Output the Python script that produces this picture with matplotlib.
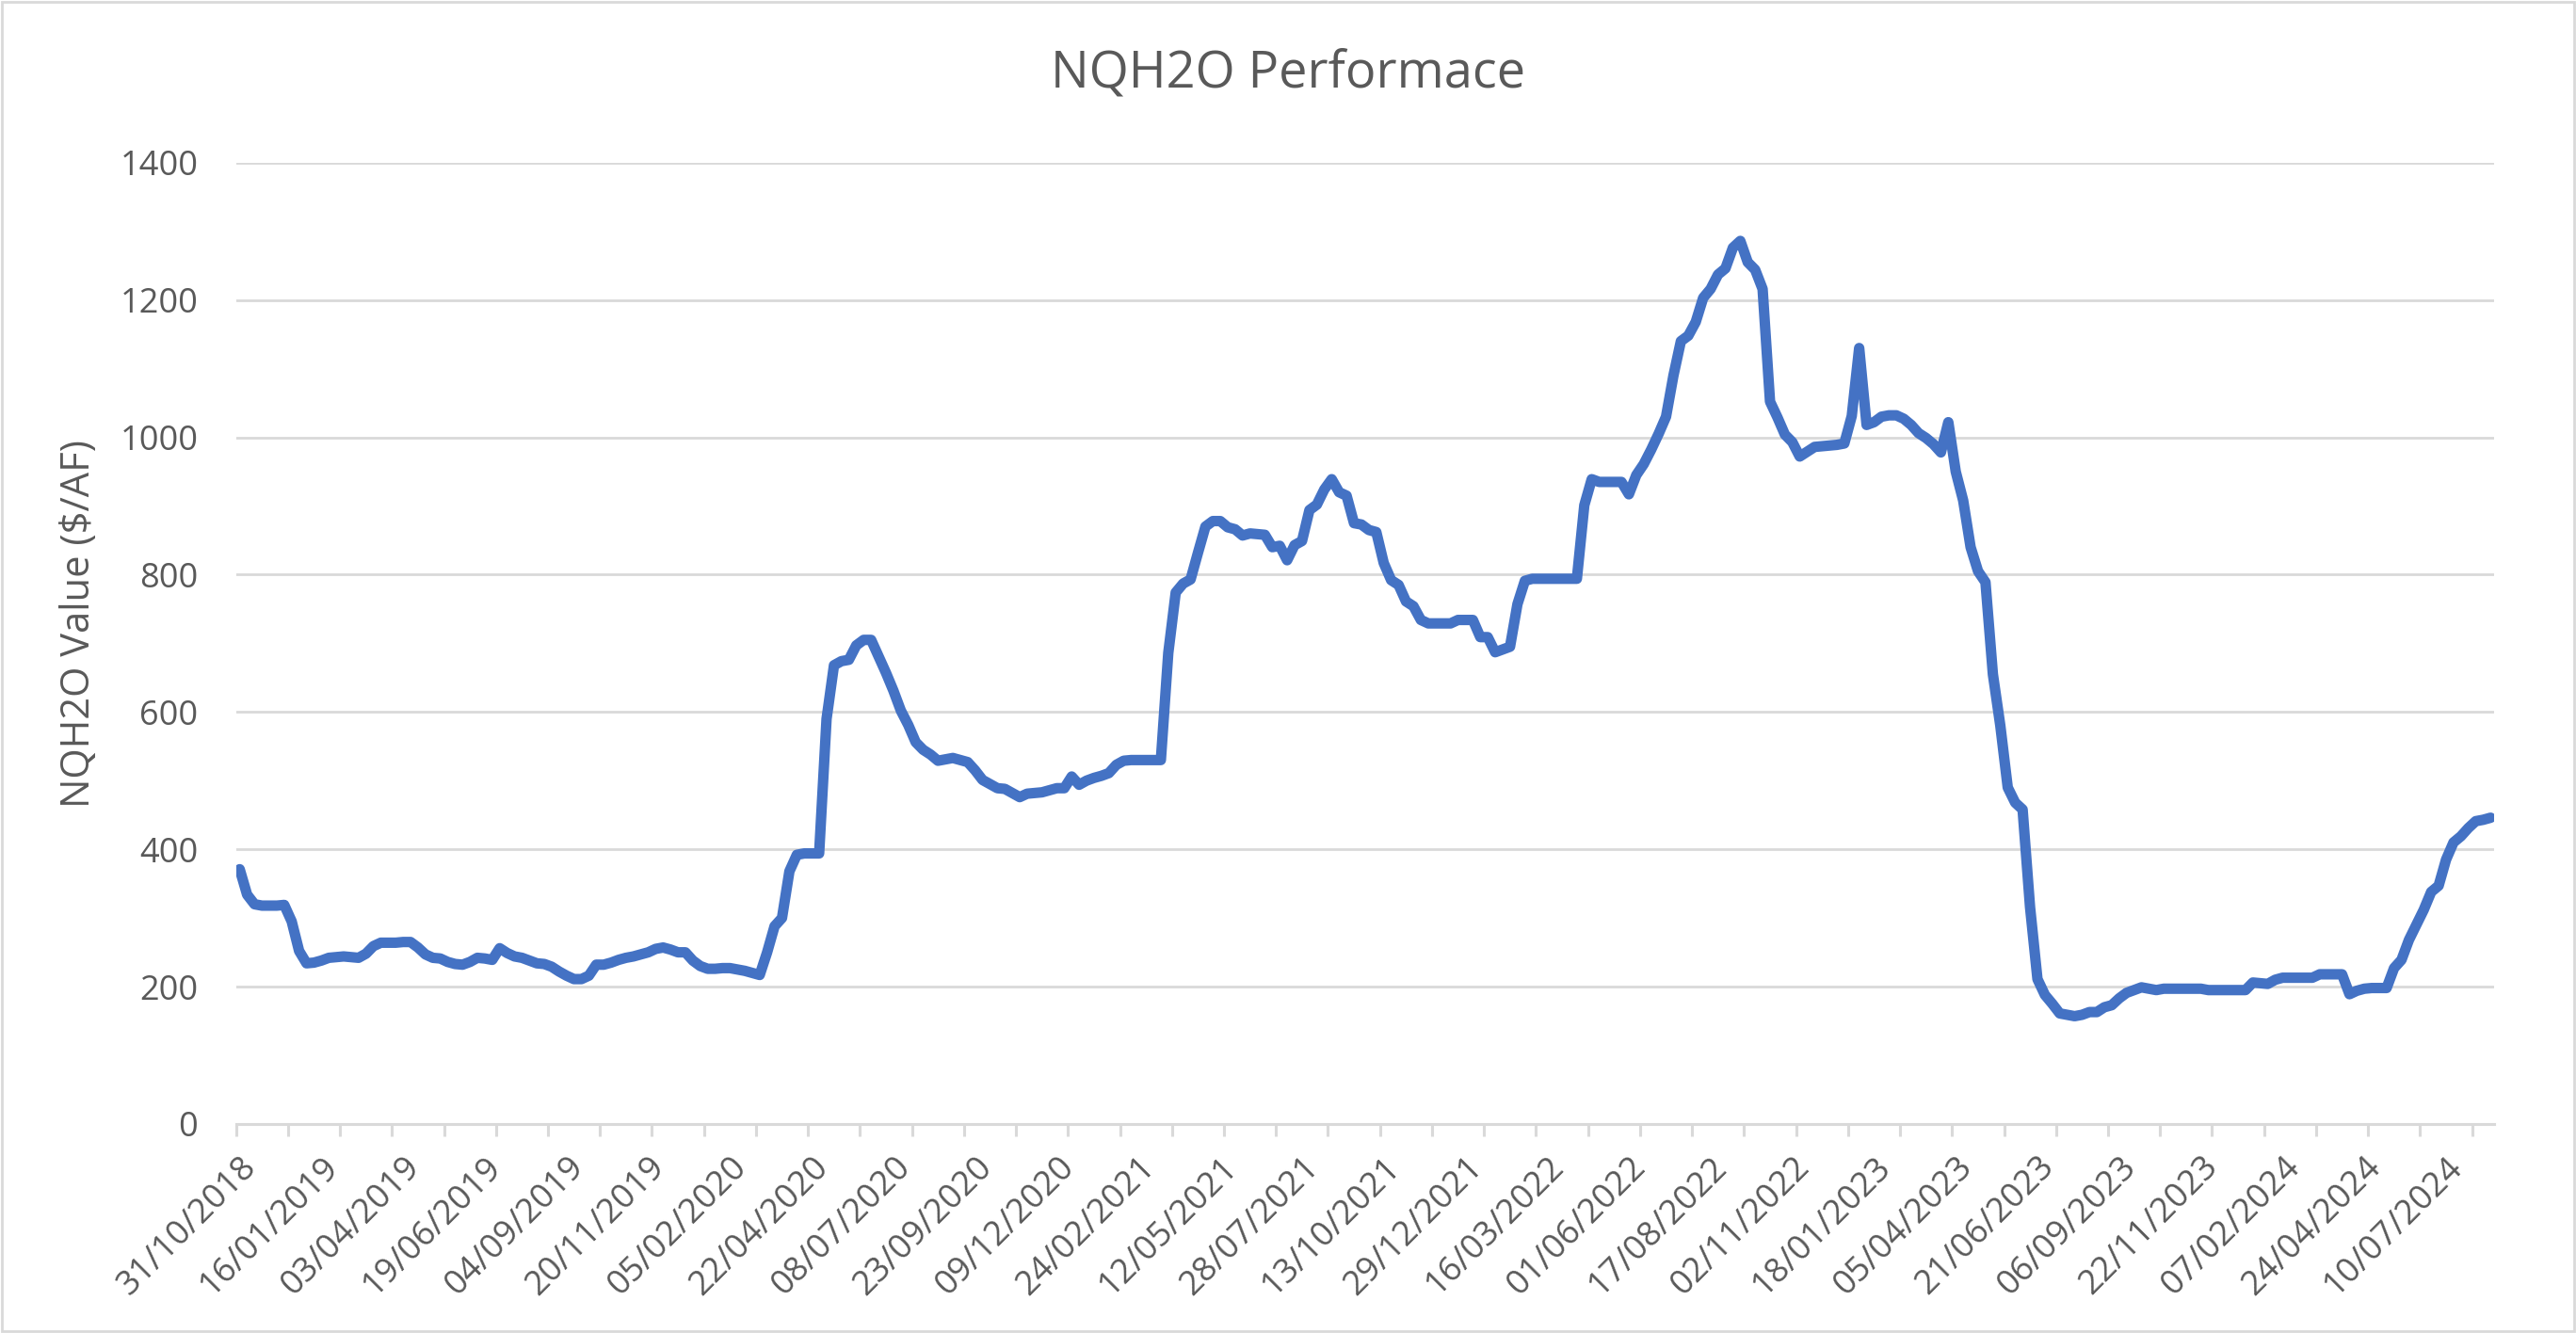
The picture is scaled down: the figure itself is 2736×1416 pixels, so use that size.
import matplotlib
matplotlib.use('Agg')
import matplotlib.pyplot as plt
import numpy as np

# weekly NQH2O index values, 31/10/2018 .. 21/08/2024
nqh2o = [
    371, 334, 320, 318, 318, 318, 319, 295, 252, 234,
    235, 238, 242, 243, 244, 243, 242, 248, 259, 264,
    264, 264, 265, 265, 257, 247, 242, 241, 236, 233,
    232, 236, 242, 241, 239, 256, 249, 244, 242, 238,
    234, 233, 229, 222, 216, 211, 211, 216, 232, 232,
    235, 239, 242, 244, 247, 250, 255, 257, 254, 250,
    250, 238, 230, 226, 226, 227, 227, 225, 223, 220,
    217, 250, 288, 300, 368, 392, 394, 394, 394, 590,
    668, 674, 676, 697, 705, 705, 681, 657, 631, 602,
    581, 556, 545, 538, 529, 531, 533, 530, 527, 515,
    501, 495, 489, 488, 482, 476, 481, 482, 483, 486,
    489, 489, 506, 494, 500, 504, 507, 511, 523, 529,
    530, 530, 530, 530, 530, 686, 774, 787, 793, 832,
    870, 878, 878, 869, 866, 857, 860, 859, 858, 840,
    842, 821, 843, 849, 894, 902, 924, 939, 920, 915,
    875, 873, 865, 862, 817, 792, 785, 761, 754, 734,
    729, 729, 729, 729, 734, 734, 734, 709, 709, 687,
    691, 695, 757, 791, 794, 794, 794, 794, 794, 794,
    794, 901, 939, 935, 935, 935, 935, 917, 945, 961,
    982, 1005, 1030, 1090, 1140, 1148, 1168, 1203, 1216, 1237,
    1246, 1276, 1286, 1255, 1244, 1216, 1052, 1029, 1004, 993,
    972, 979, 986, 987, 988, 989, 991, 1031, 1130, 1018,
    1022, 1030, 1032, 1032, 1027, 1018, 1006, 999, 990, 978,
    1022, 950, 908, 840, 805, 789, 655, 580, 490, 468,
    458, 316, 211, 188, 175, 161, 159, 157, 159, 163,
    163, 170, 173, 183, 191, 195, 199, 197, 195, 197,
    197, 197, 197, 197, 197, 195, 195, 195, 195, 195,
    195, 206, 205, 204, 210, 213, 213, 213, 213, 213,
    218, 218, 218, 218, 189, 194, 197, 198, 198, 198,
    227, 239, 268, 290, 312, 338, 347, 385, 410, 419,
    431, 441, 443, 446,
]

# date labels shown every 11 weeks
date_labels = [
    '31/10/2018', '16/01/2019', '03/04/2019', '19/06/2019', '04/09/2019',
    '20/11/2019', '05/02/2020', '22/04/2020', '08/07/2020', '23/09/2020',
    '09/12/2020', '24/02/2021', '12/05/2021', '28/07/2021', '13/10/2021',
    '29/12/2021', '16/03/2022', '01/06/2022', '17/08/2022', '02/11/2022',
    '18/01/2023', '05/04/2023', '21/06/2023', '06/09/2023', '22/11/2023',
    '07/02/2024', '24/04/2024', '10/07/2024',
]
label_every = 11
tick_every = 7

plt.rcParams['font.family'] = ['Open Sans', 'DejaVu Sans']
text_grey = '#595959'
line_grey = '#D9D9D9'

fig = plt.figure(figsize=(27.36, 14.16), dpi=100)
ax = fig.add_axes([0.0916, 0.1568, 0.8767, 0.7212])

x = np.arange(len(nqh2o))
ax.plot(x, nqh2o, color='#4472C4', linewidth=8,
        solid_joinstyle='round', solid_capstyle='round', zorder=3)

ax.set_xlim(-0.5, len(nqh2o) - 0.5)
ax.set_ylim(0, 1400)
ax.set_yticks(range(0, 1401, 200))
ax.yaxis.grid(True, color=line_grey, linewidth=2)
ax.set_axisbelow(True)

for side in ['top', 'right', 'left']:
    ax.spines[side].set_visible(False)
ax.spines['bottom'].set_color(line_grey)
ax.spines['bottom'].set_linewidth(2.2)

ax.tick_params(axis='y', length=0, pad=29, labelsize=26, labelcolor=text_grey)

# labels every 11 weeks, tick marks every 7 weeks (between categories)
ax.set_xticks(np.arange(len(date_labels)) * label_every)
ax.set_xticklabels(date_labels, rotation=45, ha='right', rotation_mode='anchor')
ax.tick_params(axis='x', which='major', length=0, pad=20, labelsize=26, labelcolor=text_grey)
ax.set_xticks(np.arange(-0.5, len(nqh2o) - 1, tick_every), minor=True)
ax.tick_params(axis='x', which='minor', length=9, width=2.2, color=line_grey)

fig.text(0.5, 0.9446, 'NQH2O Performace', ha='center', va='center',
         fontsize=39, color=text_grey)
fig.text(84 / 2736, 1 - 663 / 1416, 'NQH2O Value ($/AF)', rotation=90,
         ha='center', va='center', fontsize=30, color=text_grey)

# chart border
fig.add_artist(plt.Rectangle((0.0008, 0.0012), 0.9984, 0.9976, transform=fig.transFigure,
                             fill=False, edgecolor=line_grey, linewidth=2))

fig.savefig('out.png', dpi=100)
